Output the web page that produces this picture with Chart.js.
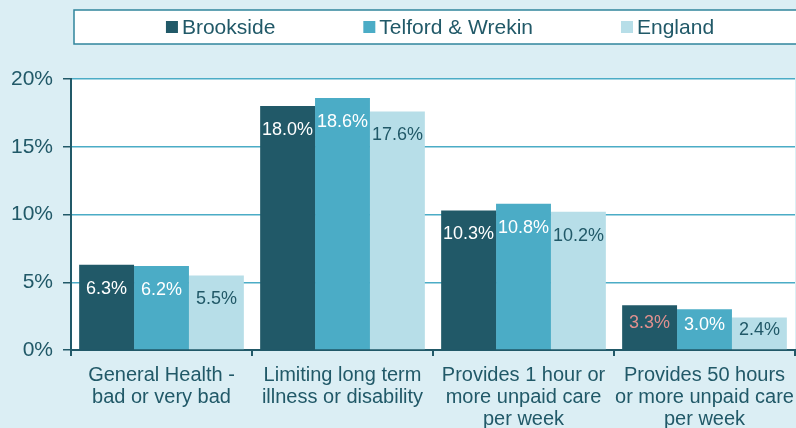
<!DOCTYPE html>
<html>
<head>
<meta charset="utf-8">
<script src="https://cdn.jsdelivr.net/npm/chart.js@4.4.1/dist/chart.umd.min.js"></script>
<style>
body { margin: 0; background: #dbeef4; }
#wrap { width: 796px; height: 428px; }
</style>
</head>
<body>
<div id="wrap"><canvas id="chart"></canvas></div>
<script>
// data
var categories = [
  ["General Health -", "bad or very bad"],
  ["Limiting long term", "illness or disability"],
  ["Provides 1 hour or", "more unpaid care", "per week"],
  ["Provides 50 hours", "or more unpaid care", "per week"]
];
var seriesNames = ["Brookside", "Telford & Wrekin", "England"];
var brookside = [6.3, 18.0, 10.3, 3.3];
var telford = [6.2, 18.6, 10.8, 3.0];
var england = [5.5, 17.6, 10.2, 2.4];
var yTicks = [0, 5, 10, 15, 20];

var fam = '"Liberation Sans", Arial, sans-serif';
var textCol = '#215968';
var barCols = ['#215968', '#4bacc6', '#b7dee8'];
var labelCols = ['#ffffff', '#ffffff', '#215968'];

Chart.defaults.font.family = fam;

var paint = {
  id: 'paint',
  beforeDraw: function(chart) {
    var ctx = chart.ctx, a = chart.chartArea;
    ctx.save();
    // white plot area
    ctx.fillStyle = '#ffffff';
    ctx.fillRect(a.left, a.top, a.right - a.left, a.bottom - a.top);
    // legend box
    ctx.fillRect(74, 10, 736, 34);
    ctx.strokeStyle = '#31859c';
    ctx.lineWidth = 1.5;
    ctx.strokeRect(74, 10, 736, 34);
    // legend items
    ctx.font = '21px ' + fam;
    ctx.textBaseline = 'middle';
    ctx.textAlign = 'left';
    var gap = 88, widths = [], total = 0;
    chart.data.datasets.forEach(function(ds) {
      var w = 16 + ctx.measureText(ds.label).width;
      widths.push(w);
      total += w;
    });
    total += gap * (widths.length - 1);
    var x = 440 - total / 2;
    chart.data.datasets.forEach(function(ds, i) {
      ctx.fillStyle = ds.backgroundColor;
      ctx.fillRect(x, 21, 12, 12);
      ctx.fillStyle = textCol;
      ctx.fillText(ds.label, x + 16, 28);
      x += widths[i] + gap;
    });
    ctx.restore();
  },
  afterDatasetsDraw: function(chart) {
    var ctx = chart.ctx;
    ctx.save();
    ctx.font = '18px ' + fam;
    ctx.textAlign = 'center';
    ctx.textBaseline = 'middle';
    chart.data.datasets.forEach(function(ds, di) {
      var meta = chart.getDatasetMeta(di);
      meta.data.forEach(function(bar, i) {
        var h = bar.base - bar.y;
        var y = bar.y + Math.min(24, h * 0.4);
        ctx.fillStyle = labelCols[di];
        if (di == 0 && i == 3) ctx.fillStyle = '#e0908f';
        ctx.fillText(ds.data[i].toFixed(1) + '%', bar.x, y);
      });
    });
    ctx.restore();
  }
};

var chart = new Chart(document.getElementById('chart'), {
  type: 'bar',
  data: {
    labels: categories,
    datasets: [
      { label: seriesNames[0], data: brookside, backgroundColor: barCols[0] },
      { label: seriesNames[1], data: telford, backgroundColor: barCols[1] },
      { label: seriesNames[2], data: england, backgroundColor: barCols[2] }
    ]
  },
  options: {
    responsive: true,
    maintainAspectRatio: false,
    animation: false,
    layout: { padding: { top: 79, left: 0, right: 1, bottom: 0 } },
    datasets: { bar: { barPercentage: 1, categoryPercentage: 0.91 } },
    plugins: { legend: { display: false }, tooltip: { enabled: false } },
    scales: {
      x: {
        offset: true,
        grid: { drawOnChartArea: false, tickLength: 6, tickColor: textCol, lineWidth: 2, offset: true },
        border: { color: textCol, width: 2 },
        ticks: { color: textCol, font: { size: 20, lineHeight: 1.1 }, padding: 8, maxRotation: 0, autoSkip: false },
        afterFit: function(s) {
          s.height = 78;
          s.paddingRight = 0;
          s.paddingLeft = 0;
        }
      },
      y: {
        min: 0,
        max: 20,
        afterBuildTicks: function(s) { s.ticks = yTicks.map(function(v) { return { value: v }; }); },
        ticks: { color: textCol, font: { size: 21 }, padding: 10, callback: function(v) { return v + '%'; } },
        grid: { color: '#4bacc6', lineWidth: 1.5, tickLength: 8, tickColor: textCol },
        border: { color: textCol, width: 2 },
        afterFit: function(s) { s.width = 71; }
      }
    }
  },
  plugins: [paint]
});
</script>
</body>
</html>
